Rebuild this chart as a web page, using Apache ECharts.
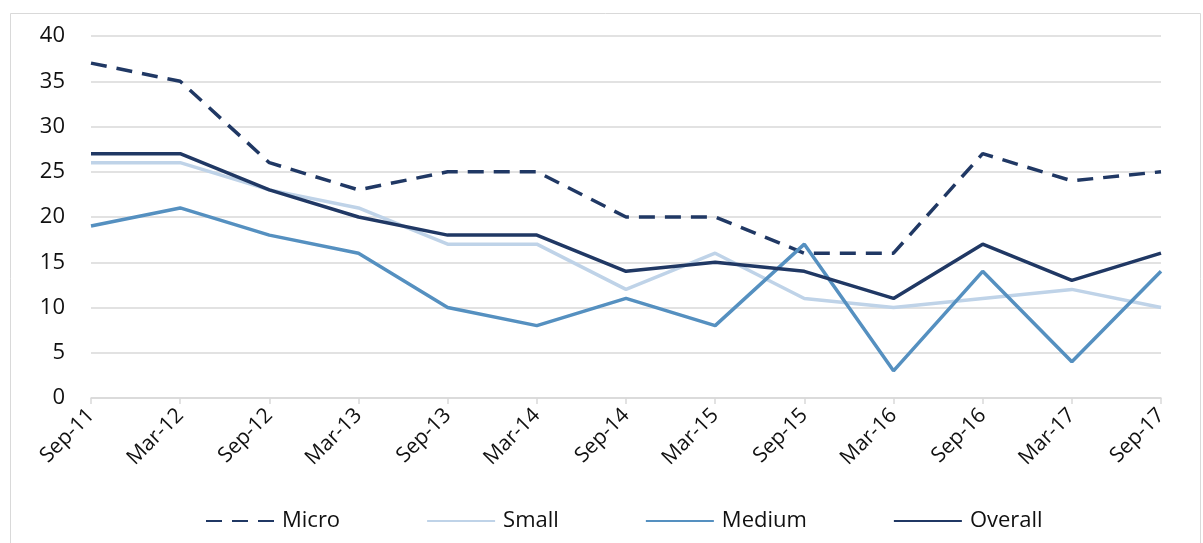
<!DOCTYPE html>
<html>
<head>
<meta charset="utf-8">
<script src="https://cdn.jsdelivr.net/npm/echarts@6/dist/echarts.min.js"></script>
<style>
html, body { margin: 0; padding: 0; background: #fff; }
#chart { width: 1203px; height: 543px; }
</style>
</head>
<body>
<div id="chart"></div>
<script>
// 横轴类别
var periods = ['Sep-11', 'Mar-12', 'Sep-12', 'Mar-13', 'Sep-13', 'Mar-14', 'Sep-14',
    'Mar-15', 'Sep-15', 'Mar-16', 'Sep-16', 'Mar-17', 'Sep-17'];
// 各系列数值
var micro = [37, 35, 26, 23, 25, 25, 20, 20, 16, 16, 27, 24, 25];
var small = [26, 26, 23, 21, 17, 17, 12, 16, 11, 10, 11, 12, 10];
var medium = [19, 21, 18, 16, 10, 8, 11, 8, 17, 3, 14, 4, 14];
var overall = [27, 27, 23, 20, 18, 18, 14, 15, 14, 11, 17, 13, 16];
var seriesNames = ['Micro', 'Small', 'Medium', 'Overall'];

var font = 'Open Sans, Noto Sans, sans-serif';
var myChart = echarts.init(document.getElementById('chart'));

function makeLine(name, data, color, type) {
    return {
        name: name,
        type: 'line',
        data: data,
        symbol: 'none',
        lineStyle: { color: color, width: 3.5, type: type, cap: 'butt' },
        itemStyle: { color: color },
        emphasis: { disabled: true }
    };
}

var option = {
    animation: false,
    backgroundColor: '#fff',
    graphic: [{
        type: 'rect',
        shape: { x: 10.5, y: 13.5, width: 1190, height: 540 },
        style: { fill: 'none', stroke: '#d9d9d9', lineWidth: 1 },
        silent: true
    }],
    grid: { left: 91, right: 42, top: 36, bottom: 145 },
    legend: {
        data: seriesNames,
        left: 200,
        top: 505,
        itemWidth: 68,
        itemHeight: 14,
        itemGap: 86,
        itemStyle: { opacity: 0 },
        textStyle: { fontFamily: font, fontSize: 22, color: '#111', padding: [0, 0, 0, 3] }
    },
    xAxis: {
        type: 'category',
        data: periods,
        boundaryGap: false,
        axisLine: { lineStyle: { color: '#d9d9d9', width: 1.5 } },
        axisTick: { show: true, length: 6, lineStyle: { color: '#d9d9d9', width: 1.5 } },
        axisLabel: {
            interval: 0,
            rotate: 45,
            margin: 14,
            fontFamily: font,
            fontSize: 21,
            color: '#111'
        }
    },
    yAxis: {
        type: 'value',
        min: 0,
        max: 40,
        interval: 5,
        axisLine: { show: false },
        axisTick: { show: false },
        axisLabel: { fontFamily: font, fontSize: 22, color: '#111', margin: 26 },
        splitLine: { lineStyle: { color: '#d9d9d9', width: 1.5 } }
    },
    series: [
        makeLine('Micro', micro, '#203864', [16, 10]),
        makeLine('Small', small, '#bfd3e8', 'solid'),
        makeLine('Medium', medium, '#5590c0', 'solid'),
        makeLine('Overall', overall, '#203864', 'solid')
    ]
};
myChart.setOption(option);
</script>
</body>
</html>
